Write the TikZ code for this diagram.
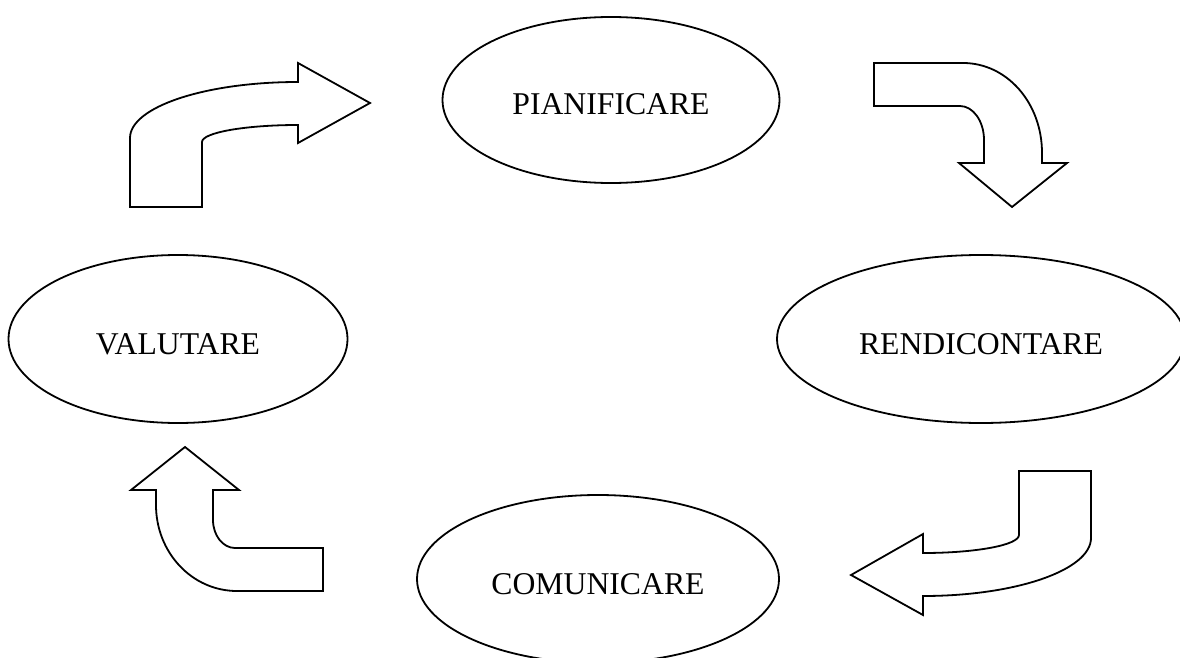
\documentclass[tikz,border=0pt]{standalone}
\usepackage{fontspec}
\setmainfont{Liberation Serif}
\usetikzlibrary{shapes.geometric}
\begin{document}
\begin{tikzpicture}[x=1pt,y=-1pt,
  stage/.style={draw=black,line width=1.8pt,ellipse,inner sep=0pt,
    font=\fontsize{31.7}{36}\selectfont,text height=30pt,text depth=0pt},
  bentarrow/.style={draw=black,line width=1.8pt,fill=white,line join=miter}]
\useasboundingbox (0,0) rectangle (1180,658);
\clip (0,0) rectangle (1180,658);
\node[stage,minimum width=337pt,minimum height=166pt] (pian) at (611,100) {PIANIFICARE};
\node[stage,minimum width=408pt,minimum height=168pt] (rend) at (981,339) {RENDICONTARE};
\node[stage,minimum width=339pt,minimum height=168pt] (valu) at (178,339) {VALUTARE};
\node[stage,minimum width=362pt,minimum height=168pt] (comu) at (598,579) {COMUNICARE};
% arrow valutare -> pianificare
\draw[bentarrow] (130,207) -- (202,207) -- (202,142)
  .. controls (202,132.6) and (245,125) .. (298,125) -- (298,143) -- (370,103)
  -- (298,63) -- (298,82) .. controls (205,82) and (130,107) .. (130,138) -- cycle;
% arrow pianificare -> rendicontare
\draw[bentarrow] (874,63) -- (963,63) .. controls (1007,63) and (1042,103) .. (1042,153)
  -- (1042,163) -- (1067,163) -- (1012,207) -- (959,163) -- (984,163) -- (984,140)
  .. controls (984,121) and (973,106) .. (960,106) -- (874,106) -- cycle;
% arrow rendicontare -> comunicare
\draw[bentarrow] (1091,471) -- (1019,471) -- (1019,535)
  .. controls (1019,545) and (976,553) .. (923,553) -- (923,534) -- (851,575)
  -- (923,615) -- (923,596) .. controls (1016,596) and (1091,570) .. (1091,538) -- cycle;
% arrow comunicare -> valutare
\draw[bentarrow] (185,447) -- (131,490) -- (156,490) -- (156,505)
  .. controls (156,552.5) and (192,591) .. (237,591) -- (323,591) -- (323,548)
  -- (235,548) .. controls (223,548) and (213,535.5) .. (213,520) -- (213,490)
  -- (239,490) -- cycle;
\end{tikzpicture}
\end{document}
